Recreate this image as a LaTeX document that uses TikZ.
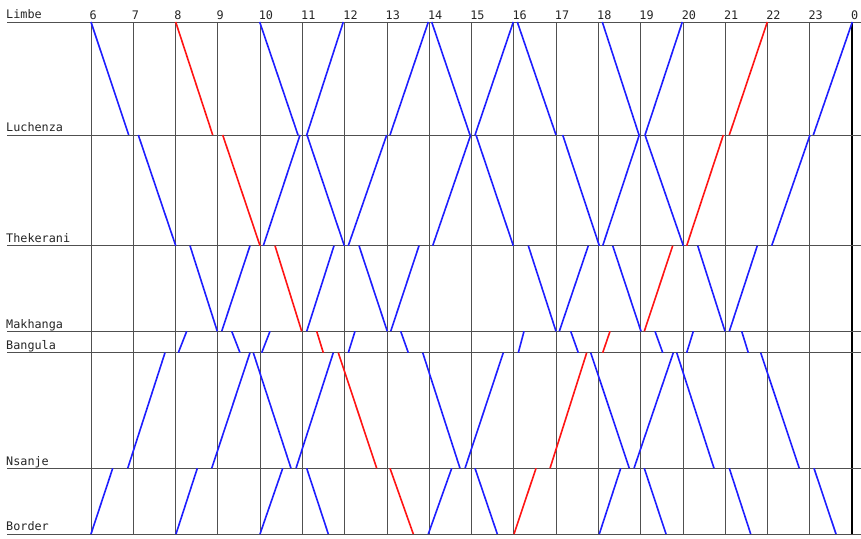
\documentclass[tikz,border=0pt]{standalone}
\usepackage{fontspec}
\newfontfamily\lblfont{DejaVu Sans Mono}
\definecolor{gridgray}{RGB}{80,80,80}
\definecolor{trainblue}{RGB}{30,30,255}
\definecolor{trainred}{RGB}{255,20,20}
\tikzset{
  gridline/.style={draw=gridgray, line width=1pt},
  endline/.style={draw=black, line width=1.8pt},
  bluetrain/.style={draw=trainblue, line width=1.6pt},
  redtrain/.style={draw=trainred, line width=1.6pt},
  stnlabel/.style={anchor=base west, inner sep=0pt, text=black!85, font=\lblfont\fontsize{11.8}{12}\selectfont},
  hourlabel/.style={anchor=base west, inner sep=0pt, text=black!85, font=\lblfont\fontsize{11.8}{12}\selectfont}
}
\begin{document}
\begin{tikzpicture}[x=1pt,y=-1pt]
\useasboundingbox[fill=white] (0,0) rectangle (861,538);
% station y positions
\def\yLi{22}\def\yLu{135}\def\yTh{245.7}\def\yMa{331.3}\def\yBa{352.7}\def\yNs{468.3}\def\yBo{534}
% hour grid
\foreach \h/\lab in {6/6,7/7,8/8,9/9,10/10,11/11,12/12,13/13,14/14,15/15,16/16,17/17,18/18,19/19,20/20,21/21,22/22,23/23}{
  \pgfmathsetmacro{\xx}{91+(\h-6)*42.29}
  \draw[gridline] (\xx,\yLi) -- (\xx,\yBo);
  \node[hourlabel] (h\h) at (\xx-1.5,19) {\lab};
}
\draw[endline] (852.3,\yLi) -- (852.3,\yBo);
\node[hourlabel] (h24) at (850.8,19) {0};
% station lines
\foreach \yy/\nm/\lab in {\yLi/li/Limbe,\yLu/lu/Luchenza,\yTh/th/Thekerani,\yMa/ma/Makhanga,\yBa/ba/Bangula,\yNs/ns/Nsanje,\yBo/bo/Border}{
  \draw[gridline] (7,\yy) -- (861,\yy);
  \node[stnlabel] (s\nm) at (6,\yy-3.2) {\lab};
}
% trains: pairs xTop/xBottom for each band
% Limbe - Luchenza
\foreach \a/\b in {91/128.7,259.7/298,343.3/306.7,428.3/390,431.7/470,513.3/475,517.3/556,602.3/639,682.3/645,852.3/813.3}
  \draw[bluetrain] (\a,\yLi) -- (\b,\yLu);
\foreach \a/\b in {175.7/212.7,767.3/729.3}
  \draw[redtrain] (\a,\yLi) -- (\b,\yLu);
% Luchenza - Thekerani
\foreach \a/\b in {138.3/175.7,300/263.3,307/344.3,386.7/348.3,470.7/432.7,476/513.3,562.7/599.3,639.3/602.7,645/683.3,810/771.7}
  \draw[bluetrain] (\a,\yLu) -- (\b,\yTh);
\foreach \a/\b in {222.7/260,723.3/686.7}
  \draw[redtrain] (\a,\yLu) -- (\b,\yTh);
% Thekerani - Makhanga
\foreach \a/\b in {190/217.3,250/221.7,334/306.7,359/387.3,419/390.7,528.3/556,588.3/559.3,612.7/641,697.7/725,757.3/729.3}
  \draw[bluetrain] (\a,\yTh) -- (\b,\yMa);
\foreach \a/\b in {275/301.7,672.7/644.3}
  \draw[redtrain] (\a,\yTh) -- (\b,\yMa);
% Makhanga - Bangula
\foreach \a/\b in {186.7/178.3,231.7/240,270/261.7,355/348.3,400.7/408.3,524/518.3,570.7/578.3,655/662.7,693.3/686.7,741.7/748.3}
  \draw[bluetrain] (\a,\yMa) -- (\b,\yBa);
\foreach \a/\b in {316.7/323.3,610/602.7}
  \draw[redtrain] (\a,\yMa) -- (\b,\yBa);
% Bangula - Nsanje
\foreach \a/\b in {165/127.7,250/211.7,253.3/291,333.3/296,422.7/460,503.3/465,590.7/629.3,673.3/634,676.7/714,760.7/799.3}
  \draw[bluetrain] (\a,\yBa) -- (\b,\yNs);
\foreach \a/\b in {338.3/376.7,586.7/550}
  \draw[redtrain] (\a,\yBa) -- (\b,\yNs);
% Nsanje - Border
\foreach \a/\b in {112.7/91,197.3/176,282.7/260,306.7/328.3,451.7/428.3,475/497.3,620.7/599.3,644.3/666,729.3/750.7,814/836}
  \draw[bluetrain] (\a,\yNs) -- (\b,\yBo);
\foreach \a/\b in {390/413.3,536/514}
  \draw[redtrain] (\a,\yNs) -- (\b,\yBo);
\end{tikzpicture}
\end{document}
